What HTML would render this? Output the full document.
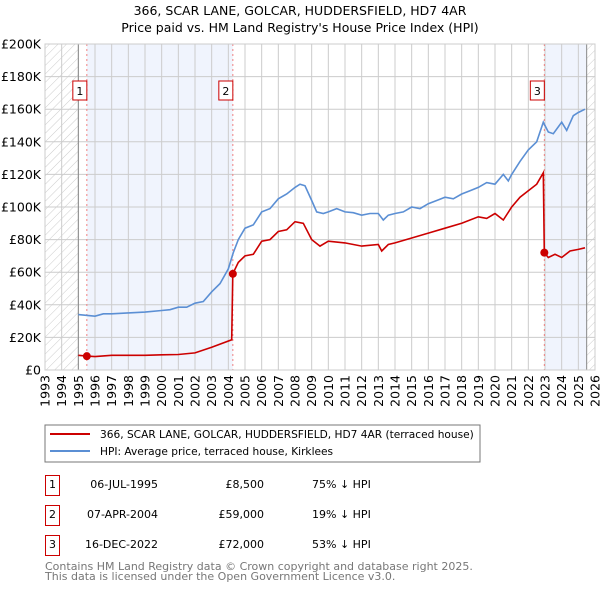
<!DOCTYPE html>
<html><head><meta charset="utf-8"><style>
body{margin:0;background:#fff;font-family:"DejaVu Sans","Liberation Sans",sans-serif;}
svg{display:block}
</style></head><body>
<svg id="c" width="600" height="590" font-family="DejaVu Sans, Liberation Sans, sans-serif">
<defs><pattern id="hatch" width="6" height="6" patternUnits="userSpaceOnUse" patternTransform="rotate(45)"><line x1="0" y1="0" x2="0" y2="6" stroke="#ccc" stroke-width="1"/></pattern></defs>
<text x="300" y="15" text-anchor="middle" font-size="12.5">366, SCAR LANE, GOLCAR, HUDDERSFIELD, HD7 4AR</text>
<text x="300" y="32" text-anchor="middle" font-size="12.5">Price paid vs. HM Land Registry's House Price Index (HPI)</text>
<g id="plot"></g>
<rect x="45" y="425" width="435" height="37" fill="#fff" stroke="#777"/>
<line x1="50" y1="434" x2="90" y2="434" stroke="#cc0000" stroke-width="2"/>
<text x="100" y="438" font-size="10.6">366, SCAR LANE, GOLCAR, HUDDERSFIELD, HD7 4AR (terraced house)</text>
<line x1="50" y1="451" x2="90" y2="451" stroke="#5b8fd4" stroke-width="2"/>
<text x="100" y="455" font-size="10.6">HPI: Average price, terraced house, Kirklees</text>
<g id="table" font-size="11"></g>
<text x="45" y="570" font-size="11" fill="#777">Contains HM Land Registry data © Crown copyright and database right 2025.</text>
<text x="45" y="580" font-size="11" fill="#777">This data is licensed under the Open Government Licence v3.0.</text>
</svg>
<script>
const hpiYears=[1995,1996,1996.5,1997,1998,1999,2000,2000.5,2001,2001.5,2002,2002.5,2003,2003.5,2004,2004.3,2004.6,2005,2005.5,2006,2006.5,2007,2007.5,2008,2008.3,2008.6,2009,2009.3,2009.7,2010,2010.5,2011,2011.5,2012,2012.5,2013,2013.3,2013.6,2014,2014.5,2015,2015.5,2016,2016.5,2017,2017.5,2018,2018.5,2019,2019.5,2020,2020.5,2020.8,2021,2021.5,2022,2022.5,2022.9,2023.2,2023.5,2024,2024.3,2024.7,2025,2025.4];
const hpiValues=[34,33,34.5,34.5,35,35.5,36.5,37,38.5,38.5,41,42,48,53,62,72,80,87,89,97,99,105,108,112,114,113,104,97,96,97,99,97,96.5,95,96,96,92,95,96,97,100,99,102,104,106,105,108,110,112,115,114,120,116,120,128,135,140,152,146,145,152,147,156,158,160];
const propYears=[1995,1995.51,1996,1997,1998,1999,2000,2001,2002,2003,2004.2,2004.27,2004.6,2005,2005.5,2006,2006.5,2007,2007.5,2008,2008.5,2009,2009.5,2010,2011,2012,2013,2013.2,2013.6,2014,2015,2016,2017,2018,2019,2019.5,2020,2020.5,2021,2021.5,2022,2022.5,2022.9,2022.96,2023.2,2023.6,2024,2024.5,2025,2025.4];
const propValues=[9,8.5,8.2,9,9,9,9.3,9.5,10.5,14,18.5,59,66,70,71,79,80,85,86,91,90,80,76,79,78,76,77,73,77,78,81,84,87,90,94,93,96,92,100,106,110,114,121,72,69,71,69,73,74,75];
const saleIds=["1","2","3"];
const saleYears=[1995.51,2004.27,2022.96];
const salePrices=[8.5,59,72];
const saleDates=["06-JUL-1995","07-APR-2004","16-DEC-2022"];
const saleLabels=["£8,500","£59,000","£72,000"];
const saleDiffs=["75% ↓ HPI","19% ↓ HPI","53% ↓ HPI"];
const yTicks=[0,20,40,60,80,100,120,140,160,180,200];
const yTickLabels=["£0","£20K","£40K","£60K","£80K","£100K","£120K","£140K","£160K","£180K","£200K"];
const xTicks=[1993,1994,1995,1996,1997,1998,1999,2000,2001,2002,2003,2004,2005,2006,2007,2008,2009,2010,2011,2012,2013,2014,2015,2016,2017,2018,2019,2020,2021,2022,2023,2024,2025,2026];
const X0=45,X1=595,Y0=370,Y1=44;
const xs=y=>X0+(y-1993)/(2026-1993)*(X1-X0);
const ys=v=>Y0-v/200*(Y0-Y1);
const NS="http://www.w3.org/2000/svg";
const g=document.getElementById('plot');
function mk(tag,attrs,parent){const e=document.createElementNS(NS,tag);for(const k in attrs)e.setAttribute(k,attrs[k]);(parent||g).appendChild(e);return e;}
let e;
e=mk('rect',{x:X0,y:Y1,width:xs(1995)-X0,height:Y0-Y1,fill:'url(#hatch)'});


e=mk('rect',{x:xs(2025.5),y:Y1,width:X1-xs(2025.5),height:Y0-Y1,fill:'url(#hatch)'});


e=mk('rect',{x:xs(saleYears[0]),y:Y1,width:xs(saleYears[1])-xs(saleYears[0]),height:Y0-Y1,fill:'#f0f4fd'});


e=mk('rect',{x:xs(saleYears[2]),y:Y1,width:xs(2025.5)-xs(saleYears[2]),height:Y0-Y1,fill:'#f0f4fd'});


yTicks.forEach((t,i)=>{
 e=mk('line',{x1:X0,x2:X1,y1:ys(t),y2:ys(t),stroke:'#ccc','stroke-width':1});
 
 
 e=mk('text',{x:X0-4,y:ys(t)+4.5,'text-anchor':'end','font-size':'12.5'});
 e.textContent=yTickLabels[i];
 
 
});
xTicks.forEach(t=>{
 e=mk('line',{x1:xs(t),x2:xs(t),y1:Y1,y2:Y0,stroke:'#ccc','stroke-width':1});
 
 
 const tx=xs(t)+4.5,ty=Y0+5;
 e=mk('text',{x:tx,y:ty,'text-anchor':'end','font-size':'12.5',transform:`rotate(-90 ${tx} ${ty})`});
 e.textContent=t;
 
 
});
e=mk('line',{x1:xs(1995),x2:xs(1995),y1:Y1,y2:Y0,stroke:'#888','stroke-width':1});


e=mk('line',{x1:xs(2025.5),x2:xs(2025.5),y1:Y1,y2:Y0,stroke:'#888','stroke-width':1});


saleYears.forEach((sy,i)=>{
 e=mk('line',{x1:xs(sy),x2:xs(sy),y1:Y1,y2:Y0,stroke:'#f08080','stroke-width':1,'stroke-dasharray':'2,3'});
 
 
});
const pts=(xa,va)=>xa.map((x,i)=>xs(x).toFixed(1)+','+ys(va[i]).toFixed(1)).join(' ');
e=mk('polyline',{points:pts(hpiYears,hpiValues),fill:'none',stroke:'#5b8fd4','stroke-width':1.6});


e=mk('polyline',{points:pts(propYears,propValues),fill:'none',stroke:'#cc0000','stroke-width':1.6});


saleYears.forEach((sy,i)=>{
 e=mk('circle',{cx:xs(sy),cy:ys(salePrices[i]),r:4,fill:'#cc0000'});
 
 
 const bx=xs(sy)-10,by=81;
 e=mk('rect',{x:bx-4,y:by,width:14,height:19,fill:'#fff',stroke:'#cc0000'});
 
 
 e=mk('text',{x:bx+3,y:by+14,'text-anchor':'middle','font-size':'11'});
 e.textContent=saleIds[i];
 
 
});
e=mk('rect',{x:X0,y:Y1,width:X1-X0,height:Y0-Y1,fill:'none',stroke:'#ccc'});


const tg=document.getElementById('table');
saleIds.forEach((id,i)=>{
 const y=476+i*30;
 e=mk('rect',{x:45.5,y:y-0.5,width:14,height:20,fill:'#fff',stroke:'#cc0000'},tg);
 
 
 e=mk('text',{x:52.5,y:y+12,'text-anchor':'middle'},tg);e.textContent=id;
 
 
 e=mk('text',{x:158,y:y+12,'text-anchor':'end'},tg);e.textContent=saleDates[i];
 
 
 e=mk('text',{x:264,y:y+12,'text-anchor':'end'},tg);e.textContent=saleLabels[i];
 
 
 e=mk('text',{x:312,y:y+12},tg);e.textContent=saleDiffs[i];
 
 
});
</script>
</body></html>
